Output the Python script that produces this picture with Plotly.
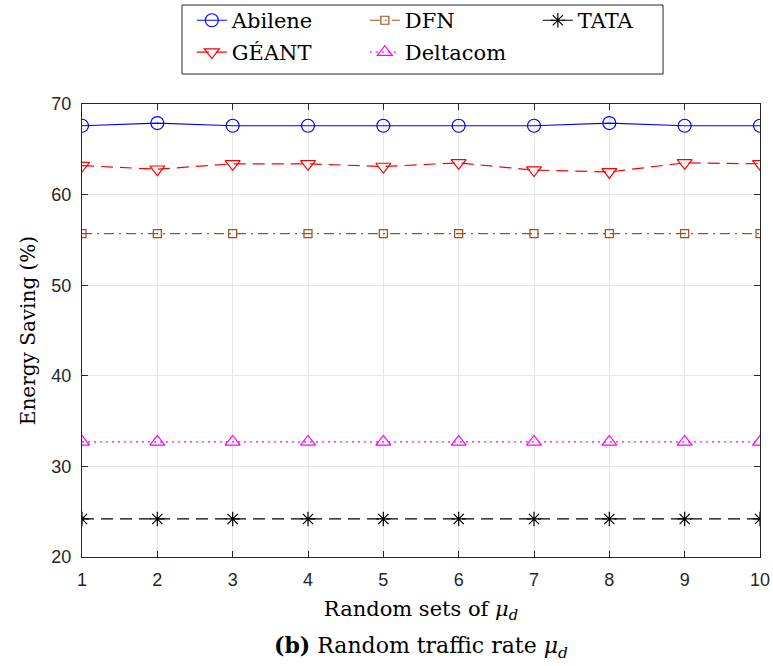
import plotly.graph_objects as go

x_sets = [1, 2, 3, 4, 5, 6, 7, 8, 9, 10]
abilene = [67.6, 67.9, 67.6, 67.6, 67.6, 67.6, 67.6, 67.9, 67.6, 67.6]
geant = [63.2, 62.8, 63.4, 63.4, 63.1, 63.5, 62.7, 62.5, 63.5, 63.4]
dfn = [55.7, 55.7, 55.7, 55.7, 55.7, 55.7, 55.7, 55.7, 55.7, 55.7]
deltacom = [32.7, 32.7, 32.7, 32.7, 32.7, 32.7, 32.7, 32.7, 32.7, 32.7]
tata = [24.2, 24.2, 24.2, 24.2, 24.2, 24.2, 24.2, 24.2, 24.2, 24.2]
y_ticks = [20, 30, 40, 50, 60, 70]

SERIF = "DejaVu Serif, Liberation Serif, serif"
SANS = "Liberation Sans, Arial, sans-serif"

fig = go.Figure()

def add(name, y, color, symbol, dash, size, legend):
    fig.add_trace(go.Scatter(
        x=x_sets, y=y, name=name, mode="lines+markers",
        line=dict(color=color, width=1.2, dash=dash),
        marker=dict(symbol=symbol, size=size, color=color,
                    line=dict(color=color, width=1.2)),
        legend=legend,
    ))

add("Abilene", abilene, "#0000FF", "circle-open", "solid", 13, "legend")
add("DFN", dfn, "#A64B1E", "square-open", "10px,5px,2px,5px", 8, "legend")
add("TATA", tata, "#000000", "asterisk-open", "12px,7px", 12, "legend")
add("GÉANT", geant, "#FF0000", "triangle-down-open", "12px,7px", 13, "legend2")
add("Deltacom", deltacom, "#FF00FF", "triangle-up-open", "2px,4px", 13, "legend2")

axis_common = dict(
    showline=True, linecolor="#262626", linewidth=1, mirror="ticks",
    ticks="inside", ticklen=6, tickcolor="#262626",
    showgrid=True, gridcolor="#E6E6E6", gridwidth=1, zeroline=False,
    tickfont=dict(family=SANS, size=18, color="#262626"),
    ticklabelstandoff=6,
)

fig.update_xaxes(range=[1, 10], tickvals=x_sets, **axis_common,
                 title=dict(text="Random sets of <i>μ</i><sub><i>d</i></sub>",
                            font=dict(family=SERIF, size=21, color="#000"),
                            standoff=12))
fig.update_yaxes(range=[20, 70], tickvals=y_ticks, **axis_common,
                 title=dict(text="Energy Saving (%)",
                            font=dict(family=SERIF, size=20, color="#000"),
                            standoff=10))

leg_common = dict(orientation="h", xanchor="left", yanchor="top",
                  bgcolor="rgba(0,0,0,0)", borderwidth=0,
                  font=dict(family=SERIF, size=21, color="#000"),
                  entrywidth=128, entrywidthmode="pixels",
                  itemclick=False, itemdoubleclick=False)

fig.update_layout(
    width=773, height=666,
    margin=dict(l=82, r=13, t=104, b=109, autoexpand=False),
    plot_bgcolor="white", paper_bgcolor="white",
    showlegend=True,
    legend=dict(x=0.162, y=1.2294, **leg_common),
    legend2=dict(x=0.162, y=1.159, **leg_common),
    shapes=[dict(type="rect", xref="paper", yref="paper",
                 x0=0.1475, x1=0.857, y0=1.0662, y1=1.2185,
                 line=dict(color="#262626", width=1), fillcolor="white",
                 layer="below")],
    annotations=[dict(text="<b>(b)</b> Random traffic rate <i>μ</i><sub><i>d</i></sub>",
                      xref="paper", yref="paper", x=0.5, y=-0.198,
                      xanchor="center", yanchor="middle", showarrow=False,
                      font=dict(family=SERIF, size=22, color="#000"))],
)

fig.write_html("out.html", config=dict(displayModeBar=False),
               post_script="document.body.style.margin='0px';document.body.style.overflow='hidden';")
